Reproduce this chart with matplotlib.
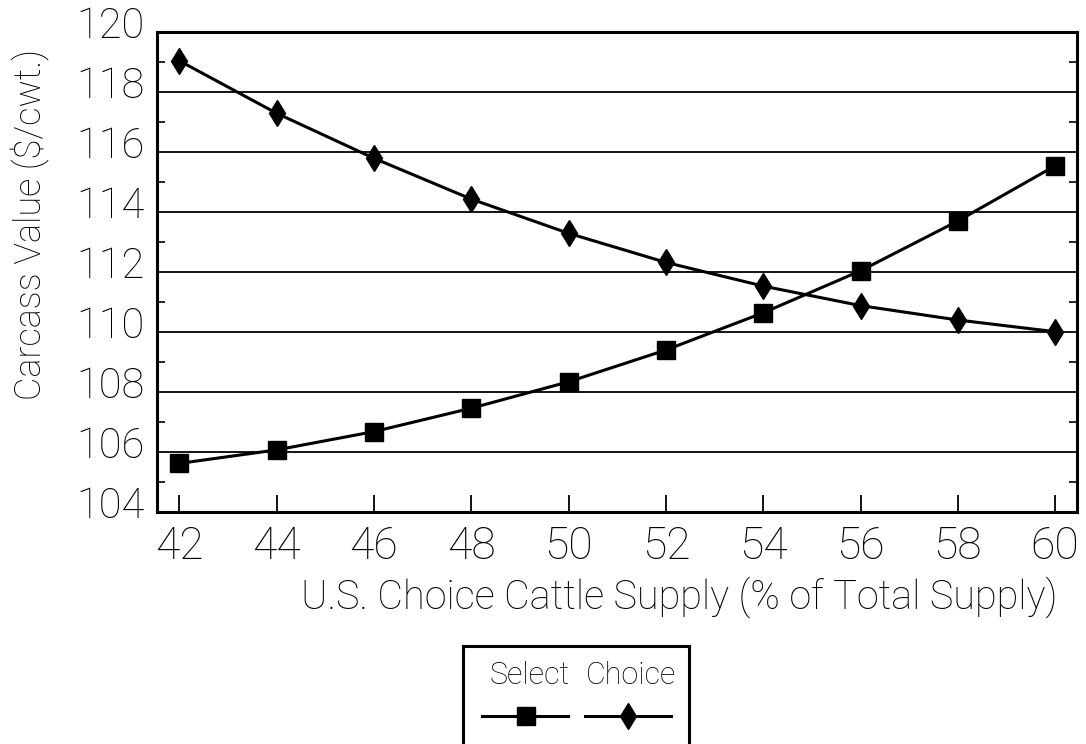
import matplotlib
matplotlib.use("Agg")
from matplotlib import pyplot as plt
from matplotlib import transforms
import numpy as np

# Carcass values vs. share of Choice cattle in total supply
supply_pct = [42, 44, 46, 48, 50, 52, 54, 56, 58, 60]
select_value = [105.62, 106.07, 106.68, 107.46, 108.34, 109.40, 110.64, 112.04, 113.70, 115.54]
choice_value = [119.04, 117.29, 115.79, 114.43, 113.29, 112.32, 111.53, 110.88, 110.40, 110.01]
y_ticks = [104, 106, 108, 110, 112, 114, 116, 118, 120]
series_names = ["Select", "Choice"]

plt.rcParams["font.family"] = ["Roboto", "DejaVu Sans"]
plt.rcParams["font.weight"] = "light"
plt.rcParams["axes.labelweight"] = "light"

fig = plt.figure(figsize=(10.86, 7.44), dpi=100)
ax = fig.add_axes([157 / 1086, 1 - 512 / 744, 920 / 1086, 480 / 744])

# horizontal grid at even values
for v in y_ticks[1:-1]:
    ax.axhline(v, color="k", lw=1.3, zorder=1)

ax.plot(supply_pct, select_value, color="k", lw=2.2, marker="s", ms=13, zorder=3)
ax.plot(supply_pct, choice_value, color="k", lw=2.2, marker="d", ms=13, zorder=3)

ax.set_xlim(41.54, 60.45)
ax.set_ylim(104, 120)
ax.set_xticks(supply_pct)
ax.set_yticks(y_ticks)
ax.set_yticks(np.arange(105, 120, 2), minor=True)

ax.tick_params(axis="x", direction="in", length=12, width=1.3, pad=10, labelsize=32)
ax.tick_params(axis="y", which="major", length=0, pad=9, labelsize=30)
ax.tick_params(axis="y", which="minor", direction="in", length=6, width=1.2,
               left=True, right=True)
for lab in ax.get_yticklabels():
    lab.set_transform(lab.get_transform() +
                      transforms.ScaledTranslation(0, 10 / 100, fig.dpi_scale_trans))

for s in ax.spines.values():
    s.set_linewidth(2.2)

ax.set_ylabel("Carcass Value ($/cwt.)", fontsize=26, fontweight="light", va="center")
ax.yaxis.set_label_coords(-0.137, 0.598)
ax.set_xlabel("U.S. Choice Cattle Supply (% of Total Supply)", fontsize=28.5,
              fontweight="light", va="center")
ax.xaxis.set_label_coords(0.568, -0.177)

# legend box: names above sample lines
lg = fig.add_axes([463 / 1086, 1 - 770 / 744, 226 / 1086, 124 / 744])
lg.set_xlim(463, 689)
lg.set_ylim(770, 646)
lg.set_xticks([])
lg.set_yticks([])
for s in lg.spines.values():
    s.set_linewidth(2.2)
lg.plot([482, 568], [716, 716], color="k", lw=2.2)
lg.plot([526], [716], color="k", marker="s", ms=13)
lg.plot([585, 671], [716, 716], color="k", lw=2.2)
lg.plot([628], [716], color="k", marker="d", ms=13)
lg.text(530, 675, series_names[0], fontsize=22, ha="center", va="center")
lg.text(631, 675, series_names[1], fontsize=22, ha="center", va="center")

fig.savefig("out.png", dpi=100)
